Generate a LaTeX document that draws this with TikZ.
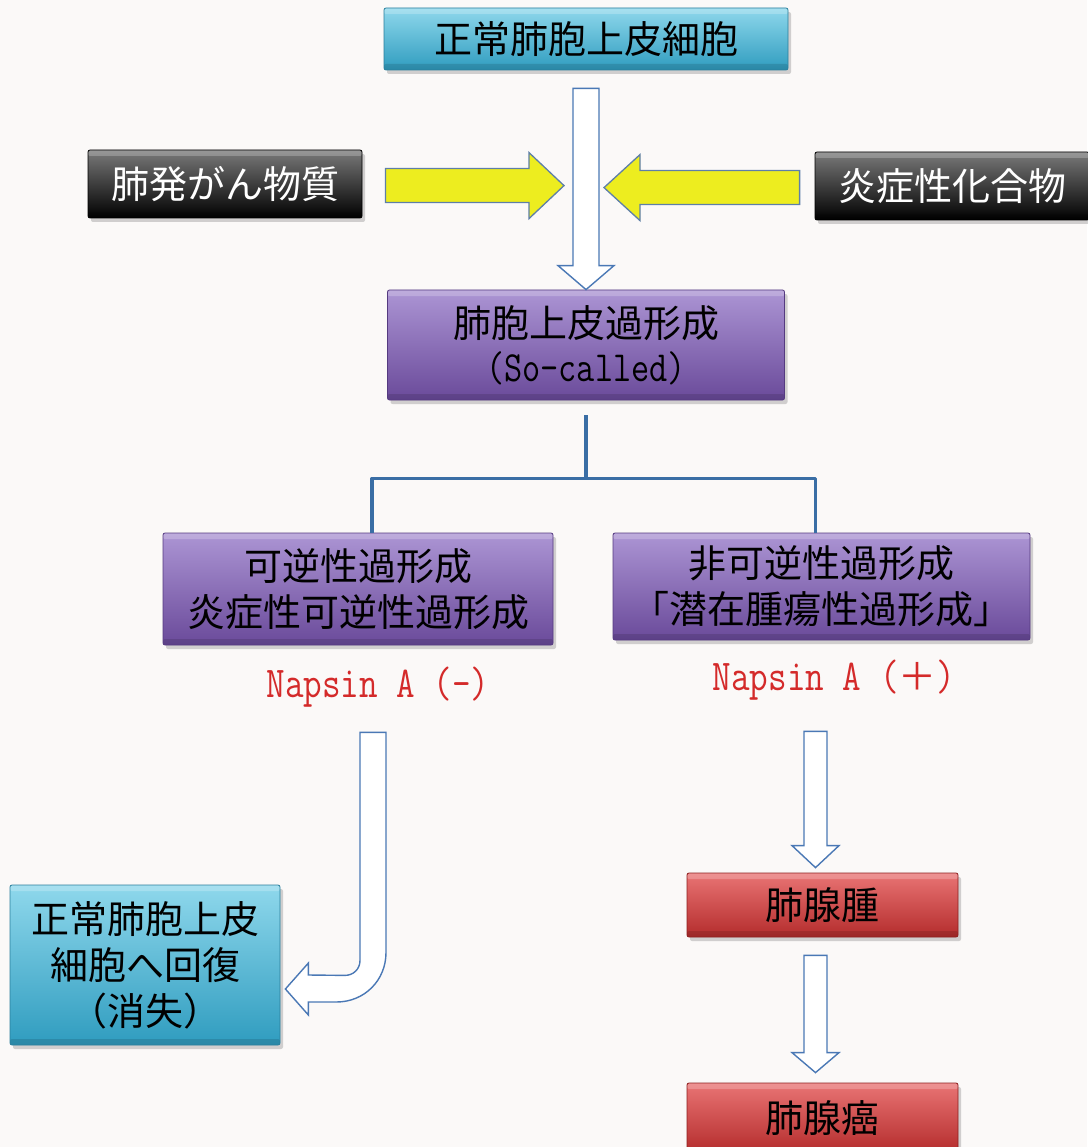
\documentclass[tikz,border=0pt]{standalone}
\usepackage{fontspec}
\newfontfamily\jp{Noto Sans CJK JP}
\newfontfamily\napfont{Latin Modern Mono}[FakeStretch=0.82]
\usetikzlibrary{calc,shadows}
\definecolor{bgcol}{HTML}{FBF9F8}
\definecolor{cyantop}{HTML}{8FD8EC}
\definecolor{cyanbot}{HTML}{2F9CBF}
\definecolor{cyanedge}{HTML}{2A7F9C}
\definecolor{purtop}{HTML}{AC95D4}
\definecolor{purbot}{HTML}{6A4A9A}
\definecolor{puredge}{HTML}{553A80}
\definecolor{redtop}{HTML}{E97474}
\definecolor{redbot}{HTML}{B42C2C}
\definecolor{rededge}{HTML}{8E2020}
\definecolor{blktop}{HTML}{7A7A7A}
\definecolor{blkmid}{HTML}{1E1E1E}
\definecolor{blkbot}{HTML}{000000}
\definecolor{lineblue}{HTML}{3A6EA5}
\definecolor{arrowblue}{HTML}{4A78B5}
\definecolor{yel}{HTML}{EDED1F}
\definecolor{yeledge}{HTML}{5E7FA8}
\definecolor{napred}{HTML}{D42A2A}
\newcommand{\hollowdown}[5]{%
  \draw[hollow] ($(#1 -| #2)+(-#3,0)$) -- ($(#2)+(-#3,-#5)$) -- ($(#2)+(-#4,-#5)$) -- (#2)
    -- ($(#2)+(#4,-#5)$) -- ($(#2)+(#3,-#5)$) -- ($(#1 -| #2)+(#3,0)$) -- cycle;}
\begin{document}
\begin{tikzpicture}[x=1pt,y=-1pt,
  box/.style={rectangle, rounded corners=2pt, inner sep=0pt, align=center,
    font=\jp\fontsize{38}{46}\selectfont,
    drop shadow={shadow xshift=3pt, shadow yshift=-4pt, opacity=0.35},
    path picture={
      \fill[white,opacity=0.22] (path picture bounding box.north west) rectangle ([yshift=-6pt]path picture bounding box.north east);
      \fill[black,opacity=0.12] (path picture bounding box.south west) rectangle ([yshift=6pt]path picture bounding box.south east);
    }},
  cyanbox/.style={box, top color=cyantop, bottom color=cyanbot, draw=cyanedge, line width=0.8pt},
  purbox/.style={box, top color=purtop, bottom color=purbot, draw=puredge, line width=0.8pt},
  redbox/.style={box, top color=redtop, bottom color=redbot, draw=rededge, line width=0.8pt},
  blkbox/.style={box, top color=blktop, middle color=blkmid, bottom color=blkbot, draw=black, line width=0.8pt, text=white},
  napsin/.style={text=napred, inner sep=0pt, font=\napfont\fontsize{44}{46}\selectfont},
  hollow/.style={draw=arrowblue, fill=white, line width=1.4pt, line join=miter},
  yarrow/.style={draw=yeledge, fill=yel, line width=1.3pt, line join=miter},
  bline/.style={draw=lineblue, line width=3.5pt, line join=round}
]
\useasboundingbox (0,0) rectangle (1087,1147);
\fill[bgcol] (0,0) rectangle (1087,1147);

% boxes
\node[cyanbox, minimum width=404pt, minimum height=62pt] (top) at (586,39) {正常肺胞上皮細胞};
\node[blkbox, minimum width=274pt, minimum height=68pt] (lblack) at (225,184) {肺発がん物質};
\node[blkbox, minimum width=274pt, minimum height=68pt] (rblack) at (952,186) {炎症性化合物};
\node[purbox, minimum width=397pt, minimum height=110pt] (hyp) at (586,345)
  {肺胞上皮過形成\\[-2pt]{\napfont\fontsize{43}{46}\selectfont (So-called)}};
\node[purbox, minimum width=390pt, minimum height=112pt] (lrev) at (358,589)
  {可逆性過形成\\炎症性可逆性過形成};
\node[purbox, minimum width=417pt, minimum height=107pt] (rirr) at (821.5,586.5)
  {非可逆性過形成\\「潜在腫瘍性過形成」};
\node[napsin] (napL) at (378,687) {Napsin A (-)};
\node[napsin] (napR) at (834,680) {Napsin A ({\jp\fontsize{38}{40}\selectfont ＋})};
\node[cyanbox, minimum width=270pt, minimum height=160pt] (recov) at (145,965)
  {正常肺胞上皮\\細胞へ回復\\（消失）};
\node[redbox, minimum width=271pt, minimum height=64pt] (aden) at (822.5,905) {肺腺腫};
\node[redbox, minimum width=271pt, minimum height=70pt] (carc) at (822.5,1118) {肺腺癌};

% main vertical hollow arrow
\coordinate (v1) at ($(top.south)+(0,18)$);
\hollowdown{v1}{hyp.north}{13}{28}{24}

% yellow arrows
\coordinate (ylt) at ($(hyp.north)+(-22,-104)$);
\coordinate (yrt) at ($(hyp.north)+(18,-102)$);
\draw[yarrow] ($(lblack.east |- ylt)+(23,-17)$) -- ($(ylt)+(-35,-17)$) -- ($(ylt)+(-35,-33)$) -- (ylt)
  -- ($(ylt)+(-35,33)$) -- ($(ylt)+(-35,17)$) -- ($(lblack.east |- ylt)+(23,17)$) -- cycle;
\draw[yarrow] ($(rblack.west |- yrt)+(-15,-17)$) -- ($(yrt)+(36,-17)$) -- ($(yrt)+(36,-33)$) -- (yrt)
  -- ($(yrt)+(36,33)$) -- ($(yrt)+(36,17)$) -- ($(rblack.west |- yrt)+(-15,17)$) -- cycle;

% blue branching connector
\coordinate (j) at ($(hyp.south)+(0,78)$);
\coordinate (lj) at ($(lrev.north)+(14,0)$);
\coordinate (rj) at ($(rirr.north)+(-6,0)$);
\draw[bline] ($(hyp.south)+(0,15)$) -- (j);
\draw[bline] (lj) -- (lj |- j) -- (rj |- j) -- (rj);

% L-shaped hollow arrow to recovery box
\coordinate (Ls) at ($(lrev.south)+(15,87)$);
\coordinate (Lt) at ($(recov.east)+(5,24)$);
\draw[hollow] ($(Ls)+(-13,0)$) -- ($(Ls)+(-13,228)$)
  .. controls ($(Ls)+(-13,237)$) and ($(Ls)+(-20,243)$) .. ($(Ls)+(-28,243)$)
  -- ($(Lt)+(23,-14)$) -- ($(Lt)+(23,-26)$) -- (Lt) -- ($(Lt)+(23,26)$) -- ($(Lt)+(23,13)$)
  -- ($(Lt)+(51,13)$)
  .. controls ($(Lt)+(79,13)$) and ($(Ls)+(13,248)$) .. ($(Ls)+(13,220)$)
  -- ($(Ls)+(13,0)$) -- cycle;

% right column arrows
\coordinate (r1) at ($(rirr.south)+(-6,91)$);
\coordinate (ra1) at ($(aden.north)+(-7,-5)$);
\hollowdown{r1}{ra1}{11.5}{23.5}{22}
\coordinate (r2) at ($(aden.south)+(-7,18)$);
\coordinate (ra2) at ($(carc.north)+(-7,-10)$);
\hollowdown{r2}{ra2}{11.5}{23.5}{20}
\end{tikzpicture}
\end{document}
